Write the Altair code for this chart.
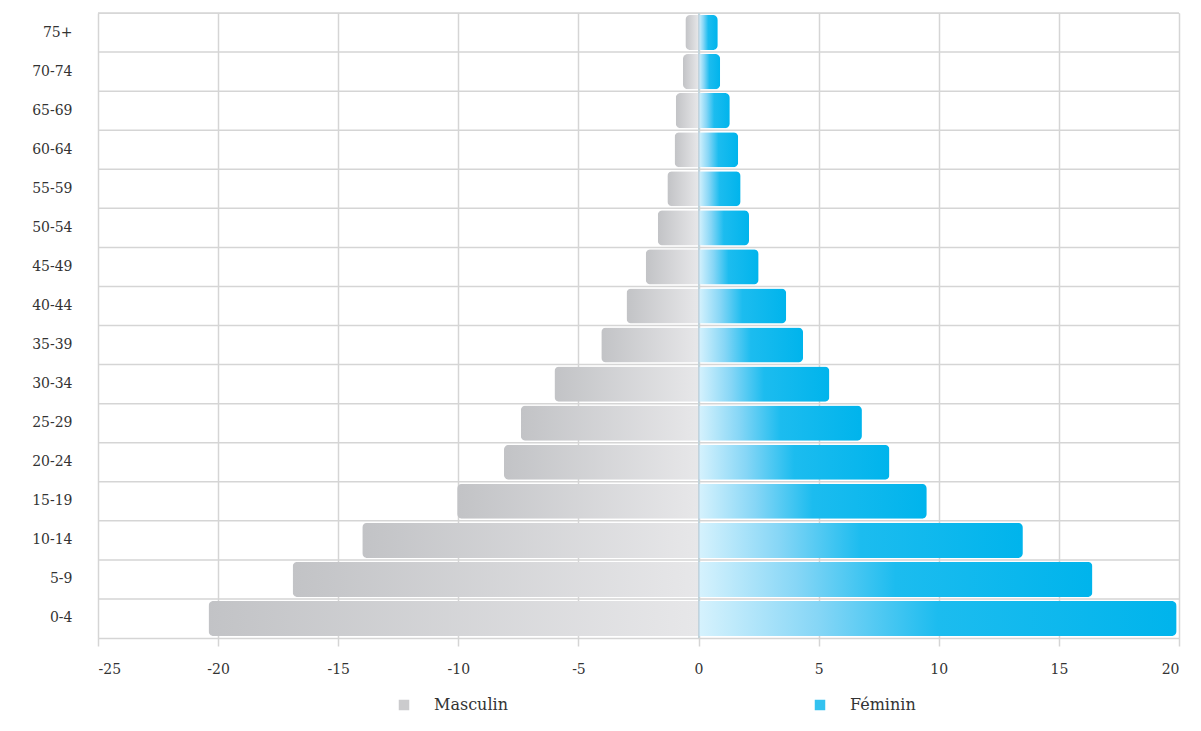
import altair as alt
import pandas as pd

ages = ["0-4", "5-9", "10-14", "15-19", "20-24", "25-29", "30-34", "35-39",
        "40-44", "45-49", "50-54", "55-59", "60-64", "65-69", "70-74", "75+"]
masculin = [20.4, 16.9, 14.0, 10.05, 8.1, 7.4, 6.0, 4.05,
            3.0, 2.2, 1.7, 1.3, 1.0, 0.95, 0.65, 0.55]
feminin = [19.9, 16.4, 13.5, 9.5, 7.95, 6.8, 5.45, 4.35,
           3.65, 2.5, 2.1, 1.75, 1.65, 1.3, 0.9, 0.8]
sexes = ["Masculin", "Féminin"]
x_ticks = [-25, -20, -15, -10, -5, 0, 5, 10, 15, 20]

rows = []
for a, m, f in zip(ages, masculin, feminin):
    rows.append({"age": a, "sexe": "Masculin", "valeur": -m})
    rows.append({"age": a, "sexe": "Féminin", "valeur": f})
df = pd.DataFrame(rows)
df_ages = pd.DataFrame({"age": ages})

order = list(reversed(ages))
FONT = "DejaVu Serif"
GRID = "#d5d5d5"

yscale = alt.Scale(type="band", paddingInner=0, paddingOuter=0)
yaxis = alt.Axis(title=None, ticks=False, domain=False, grid=False,
                 labelFont=FONT, labelFontSize=14, labelColor="#333333",
                 labelPadding=26)

def Y(**kw):
    return alt.Y("age:N", sort=order, scale=yscale, axis=yaxis, **kw)

xscale = alt.Scale(domain=[-25, 20], nice=False, zero=False)
xaxis = alt.Axis(title=None, values=x_ticks, grid=True, gridColor=GRID,
                 gridWidth=1.5, domainColor=GRID, domainWidth=1.5,
                 tickColor=GRID, tickWidth=1.5, tickSize=8,
                 labelFont=FONT, labelFontSize=14, labelColor="#333333",
                 labelPadding=16, labelExpr="datum.value + ''")

grad_m = alt.LinearGradient(
    gradient="linear", x1=0, x2=1, y1=0, y2=0,
    stops=[alt.GradientStop(offset=0, color="#c2c3c6"),
           alt.GradientStop(offset=1, color="#e7e7e9")])
grad_f = alt.LinearGradient(
    gradient="linear", x1=0, x2=1, y1=0, y2=0,
    stops=[alt.GradientStop(offset=0, color="#d6f2fd"),
           alt.GradientStop(offset=0.25, color="#86d6f6"),
           alt.GradientStop(offset=0.5, color="#1cbcef"),
           alt.GradientStop(offset=1, color="#00b4ec")])

base = alt.Chart(df)

hgrid = alt.Chart(df_ages).mark_rule(color=GRID, strokeWidth=1.5).encode(
    y=Y(bandPosition=0)
)

bars_m = base.transform_filter(alt.datum.sexe == "Masculin").mark_bar(
    fill=grad_m, height=alt.RelativeBandSize(0.9),
    cornerRadiusTopLeft=5, cornerRadiusBottomLeft=5
).encode(
    x=alt.X("valeur:Q", scale=xscale, axis=xaxis),
    y=Y(),
)

bars_f = base.transform_filter(alt.datum.sexe == "Féminin").mark_bar(
    fill=grad_f, height=alt.RelativeBandSize(0.9),
    cornerRadiusTopRight=5, cornerRadiusBottomRight=5
).encode(
    x=alt.X("valeur:Q", scale=xscale, axis=xaxis),
    y=Y(),
)

zero = alt.Chart(df_ages).mark_rule(color="#c3d3dc", strokeWidth=1).encode(
    x=alt.datum(0, scale=xscale),
)

legend_layer = base.mark_square(opacity=0, size=0).encode(
    x=alt.X("valeur:Q", scale=xscale, axis=xaxis),
    y=Y(),
    color=alt.Color(
        "sexe:N",
        scale=alt.Scale(domain=sexes, range=["#cbcbcd", "#33c2f0"]),
        legend=alt.Legend(
            title=None, orient="none", legendX=298, legendY=684,
            direction="horizontal", columns=2, columnPadding=304,
            symbolType="square", symbolSize=110, symbolOpacity=1,
            symbolStrokeWidth=0, labelFont=FONT, labelFontSize=16,
            labelColor="#333333", labelOffset=22, padding=0,
        ),
    ),
)

chart = alt.layer(hgrid, bars_m, bars_f, zero, legend_layer).properties(
    width=1081, height=625,
    padding={"left": 90, "top": 5, "right": 10, "bottom": 80},
    autosize=alt.AutoSizeParams(type="none"),
).configure_view(stroke=GRID, strokeWidth=1.5).configure(background="white")

chart.save("out.html", embed_options={"renderer": "svg", "actions": False})
